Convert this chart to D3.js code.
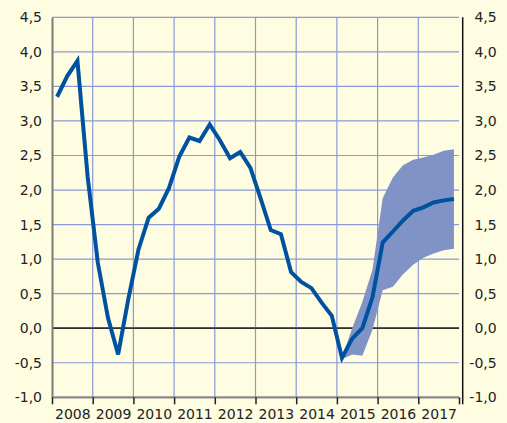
<!DOCTYPE html>
<html>
<head>
<meta charset="utf-8">
<script src="https://cdn.jsdelivr.net/npm/d3@7"></script>
<style>
  body { margin: 0; background: #fefce1; }
  svg { display: block; }
  text { font-family: "DejaVu Sans", sans-serif; font-size: 14px; fill: #222; }
</style>
</head>
<body>
<div id="chart"></div>
<script>
// quarterly series, 2008Q1 .. 2017Q4
var years = [2008, 2009, 2010, 2011, 2012, 2013, 2014, 2015, 2016, 2017];
var yTicks = [-1.0, -0.5, 0.0, 0.5, 1.0, 1.5, 2.0, 2.5, 3.0, 3.5, 4.0, 4.5];

var lineValues = [
    3.35, 3.65, 3.87, 2.2,
    0.95, 0.15, -0.38, 0.42,
    1.14, 1.6, 1.73, 2.03,
    2.48, 2.76, 2.71, 2.95,
    2.72, 2.46, 2.55, 2.32,
    1.88, 1.42, 1.36, 0.81,
    0.67, 0.58, 0.37, 0.18,
    -0.43, -0.15, 0.0, 0.45,
    1.24, 1.4, 1.56, 1.70,
    1.75, 1.82, 1.85, 1.87
];

// forecast band starts at 2015Q1 (index 28)
var bandStart = 28;
var bandLow = [-0.45, -0.38, -0.40, -0.02, 0.55, 0.60, 0.78, 0.92, 1.02, 1.08, 1.13, 1.15];
var bandHigh = [-0.43, 0.0, 0.38, 0.85, 1.88, 2.18, 2.36, 2.44, 2.47, 2.51, 2.57, 2.59];

// dimensions
var svgWidth = 507;
var svgHeight = 423;
var margin = { top: 17.3, right: 48, bottom: 25.7, left: 52 };
var width = svgWidth - margin.left - margin.right;
var height = svgHeight - margin.top - margin.bottom;

var svg = d3.select("#chart").append("svg")
    .attr("width", svgWidth)
    .attr("height", svgHeight);

svg.append("rect")
    .attr("width", svgWidth)
    .attr("height", svgHeight)
    .attr("fill", "#fefce1");

var g = svg.append("g")
    .attr("transform", `translate(${margin.left}, ${margin.top})`);

var xScale = d3.scaleLinear().domain([2008, 2018]).range([0, width]);
var yScale = d3.scaleLinear().domain([-1, 4.5]).range([height, 0]);

var fmt = function (d) { return d3.format(".1f")(d).replace(".", ",").replace("\u2212", "-"); };
var qx = function (i) { return xScale(2008 + (i + 0.5) / 4); };

// grid
g.append("g").selectAll("line")
    .data(yTicks.filter(d => d > -1))
    .enter().append("line")
    .attr("x1", 0).attr("x2", width)
    .attr("y1", d => yScale(d)).attr("y2", d => yScale(d))
    .attr("stroke", d => d === 0 ? "#222" : "#8a9ad6")
    .attr("stroke-width", d => d === 0 ? 1.3 : 1.2);

g.append("g").selectAll("line")
    .data(years.slice(1))
    .enter().append("line")
    .attr("x1", d => xScale(d)).attr("x2", d => xScale(d))
    .attr("y1", 0).attr("y2", height)
    .attr("stroke", "#8a9ad6")
    .attr("stroke-width", 1.2);

// redraw zero line on top of vertical grid
g.append("line")
    .attr("x1", 0).attr("x2", width)
    .attr("y1", yScale(0)).attr("y2", yScale(0))
    .attr("stroke", "#222").attr("stroke-width", 1.3);

// band
var bandData = bandLow.map((d, k) => ({ i: bandStart + k, lo: d, hi: bandHigh[k] }));
var area = d3.area()
    .x(d => qx(d.i))
    .y0(d => yScale(d.lo))
    .y1(d => yScale(d.hi));
g.append("path")
    .datum(bandData)
    .attr("d", area)
    .attr("fill", "#7f93c6");

// line
var line = d3.line()
    .x((d, i) => qx(i))
    .y(d => yScale(d));
g.append("path")
    .datum(lineValues)
    .attr("d", line)
    .attr("fill", "none")
    .attr("stroke", "#0052a0")
    .attr("stroke-width", 4)
    .attr("stroke-linejoin", "miter");

// left axis
var leftAxis = g.append("g")
    .call(d3.axisLeft(yScale).tickValues(yTicks).tickSize(0).tickPadding(10).tickFormat(fmt));
leftAxis.select(".domain").attr("stroke", "#7a7a7a").attr("stroke-width", 2);
leftAxis.selectAll("text").attr("fill", "#222").style("font-size", "14px");

// right axis
var rightAxis = g.append("g")
    .attr("transform", `translate(${width + 3.7}, 0)`)
    .call(d3.axisRight(yScale).tickValues(yTicks).tickSize(0).tickFormat(fmt));
rightAxis.select(".domain").attr("stroke", "#111").attr("stroke-width", 1.5)
    .attr("d", `M0,0V${height + 7}`);
rightAxis.selectAll("text").attr("text-anchor", "end").attr("x", 34)
    .attr("fill", "#222").style("font-size", "14px");

// bottom axis with year boundary ticks
var bottomAxis = g.append("g")
    .attr("transform", `translate(0, ${height})`)
    .call(d3.axisBottom(xScale).tickValues(years.concat([2018])).tickSize(7).tickFormat(""));
bottomAxis.select(".domain").attr("stroke", "#8a8a8a").attr("stroke-width", 2.2)
    .attr("d", `M0,0H${width}`);
bottomAxis.selectAll(".tick line").attr("stroke", "#222").attr("stroke-width", 1.5);

// year labels centred in each year
var labelAxis = g.append("g")
    .attr("transform", `translate(0, ${height})`)
    .call(d3.axisBottom(xScale).tickValues(years.map(d => d + 0.5)).tickSize(0).tickPadding(12)
        .tickFormat(d => String(Math.floor(d))));
labelAxis.select(".domain").remove();
labelAxis.selectAll("text").attr("fill", "#222").style("font-size", "14px");
</script>
</body>
</html>
